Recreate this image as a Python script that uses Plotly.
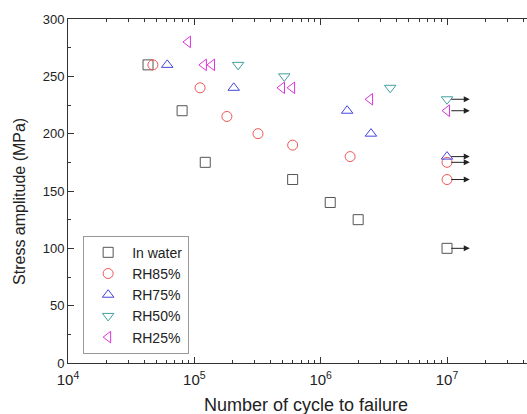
import plotly.graph_objects as go

# Data (cycles to failure, stress amplitude MPa)
water_N = [43000, 80000, 122000, 600000, 1190000, 1980000, 10000000]
water_S = [260, 220, 175, 160, 140, 125, 100]
rh85_N = [47000, 111000, 181000, 319000, 600000, 1710000, 10000000, 10000000]
rh85_S = [260, 240, 215, 200, 190, 180, 175, 160]
rh75_N = [61000, 205000, 1620000, 2500000, 10000000]
rh75_S = [260, 240, 220, 200, 180]
rh50_N = [222000, 515000, 3550000, 10000000]
rh50_S = [260, 250, 240, 230]
rh25_N = [89000, 119000, 138000, 494000, 594000, 2460000, 10000000]
rh25_S = [280, 260, 260, 240, 240, 230, 220]
# run-outs (no failure) at 1e7 cycles
runout_S = [230, 220, 180, 175, 160, 100]

series = [
    ("In water", water_N, water_S, "square-open", "#555555"),
    ("RH85%", rh85_N, rh85_S, "circle-open", "#ee5555"),
    ("RH75%", rh75_N, rh75_S, "triangle-up-open", "#4444dd"),
    ("RH50%", rh50_N, rh50_S, "triangle-down-open", "#44a0a0"),
    ("RH25%", rh25_N, rh25_S, "triangle-left-open", "#dd33dd"),
]

FONT = "Liberation Sans, Arial, sans-serif"
fig = go.Figure()
for name, xs, ys, sym, col in series:
    fig.add_trace(go.Scatter(
        x=xs, y=ys, mode="markers", name=name,
        marker=dict(symbol=sym, size=10, color=col, line=dict(color=col, width=1)),
    ))

for s in runout_S:
    fig.add_annotation(
        x=7.18, y=s, xref="x", yref="y", ax=-20, ay=0,
        showarrow=True, arrowhead=2, arrowsize=1.2, arrowwidth=1,
        arrowcolor="#222222", text="",
    )

# axis titles as positioned annotations
fig.add_annotation(
    text="Number of cycle to failure", xref="paper", yref="paper",
    x=0.5185, y=-0.122, xanchor="center", yanchor="middle", showarrow=False,
    font=dict(family=FONT, size=18, color="#222222"),
)
fig.add_annotation(
    text="Stress amplitude (MPa)", xref="paper", yref="paper",
    x=-0.1046, y=0.471, xanchor="center", yanchor="middle", showarrow=False,
    textangle=-90, font=dict(family=FONT, size=16, color="#222222"),
)

fig.update_layout(
    width=527, height=414,
    margin=dict(l=68, r=0, t=19, b=51),
    paper_bgcolor="white", plot_bgcolor="white",
    font=dict(family=FONT, size=12, color="#222222"),
    showlegend=True,
    legend=dict(
        x=0.033, y=0.37, xanchor="left", yanchor="top",
        bordercolor="#999999", borderwidth=1, bgcolor="white",
        font=dict(family=FONT, size=14, color="#222222"),
        tracegroupgap=0, itemwidth=38,
    ),
)
fig.update_xaxes(
    type="log", range=[4, 7.633], dtick=1, exponentformat="power",
    automargin=False,
    showline=True, linecolor="#333333", linewidth=1, mirror="allticks",
    ticks="inside", ticklen=6, tickcolor="#333333",
    minor=dict(ticks="inside", ticklen=3, tickcolor="#333333"),
    showgrid=False, zeroline=False,
    tickfont=dict(size=12), ticklabelstandoff=4,
)
fig.update_yaxes(
    range=[0, 300], dtick=50,
    automargin=False,
    showline=True, linecolor="#333333", linewidth=1,
    ticks="inside", ticklen=6, tickcolor="#333333",
    minor=dict(dtick=25, ticks="inside", ticklen=3, tickcolor="#333333"),
    showgrid=False, zeroline=False,
    tickfont=dict(size=13),
)
fig.write_html(
    "out.html",
    config={"displayModeBar": False},
    post_script="document.body.style.margin='0';document.body.style.overflow='hidden';",
)
